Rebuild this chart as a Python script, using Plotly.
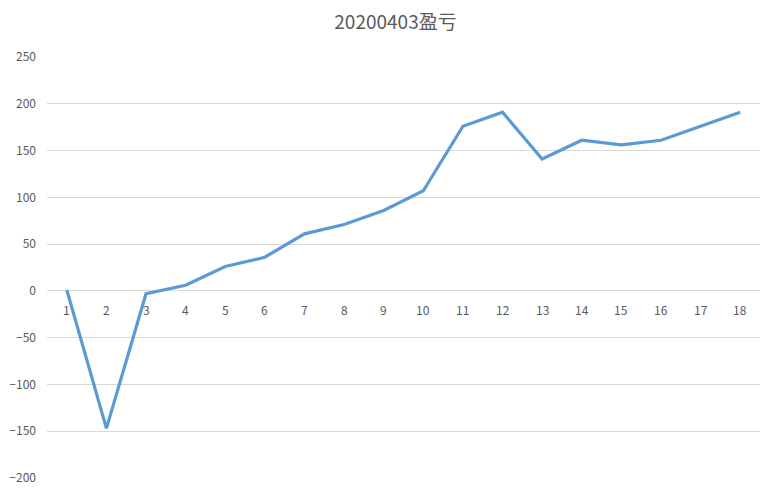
import plotly.graph_objects as go

categories = [str(i) for i in range(1, 19)]
values = [1, -147, -3, 6, 26, 36, 61, 71, 86, 107, 176, 191, 141, 161, 156, 161, 176, 191]
y_ticks = [-200, -150, -100, -50, 0, 50, 100, 150, 200, 250]
title_text = "20200403盈亏"

FONT = "Noto Sans CJK SC"
fig = go.Figure()
fig.add_trace(go.Scatter(
    x=categories, y=values, mode="lines",
    line=dict(color="#5B9BD5", width=3.2),
    hoverinfo="skip",
))

for i, c in enumerate(categories):
    fig.add_annotation(x=i, y=0, text=c, showarrow=False, yanchor="top",
                       yshift=-8, font=dict(family=FONT, size=12, color="#595959"))

fig.update_layout(
    width=775, height=492,
    margin=dict(l=39, r=23, t=49, b=22),
    paper_bgcolor="white", plot_bgcolor="white",
    showlegend=False,
    title=dict(text=title_text, x=0.5, xanchor="center", y=0.97, yanchor="middle",
               font=dict(family=FONT, size=19, color="#595959")),
    xaxis=dict(type="category", range=[-0.5, 17.5], showgrid=False, showticklabels=False,
               zeroline=False, showline=False, ticks="", automargin=False),
    yaxis=dict(range=[-200, 250], tickvals=y_ticks, showgrid=True, gridcolor="#D9D9D9",
               gridwidth=1, zeroline=True, zerolinecolor="#D9D9D9", zerolinewidth=1,
               showline=False, ticks="", ticklabelstandoff=10, automargin=False,
               tickfont=dict(family=FONT, size=12, color="#595959")),
)
fig.write_html("out.html")
